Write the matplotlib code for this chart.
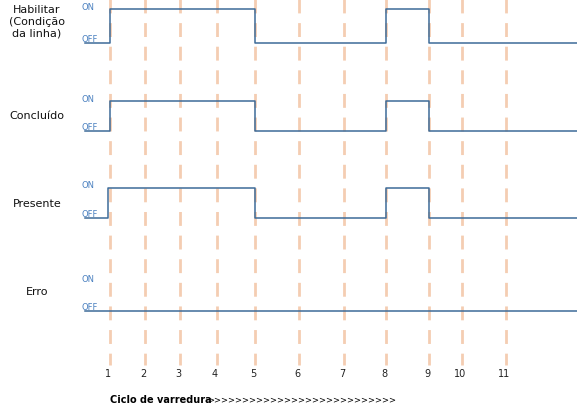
import matplotlib.pyplot as plt

# cycle marker positions (pixel x) and labels
cycle_labels = ['1', '2', '3', '4', '5', '6', '7', '8', '9', '10', '11']
cycle_x = [110, 145, 180, 217, 255, 299, 344, 386, 429, 462, 506]

signals = ['Habilitar\n(Condição\nda linha)', 'Concluído', 'Presente', 'Erro']
label_y = [22, 116, 204, 292]
on_y = [10, 102, 189, 283]
off_y = [44, 132, 219, 312]
# high intervals (pixel x) for each signal
high_spans = [
    [(110, 255), (386, 429)],
    [(110, 255), (386, 429)],
    [(108, 255), (386, 429)],
    [],
]

W, H = 577, 410
fig = plt.figure(figsize=(W / 100, H / 100), dpi=100)
ax = fig.add_axes([0, 0, 1, 1])
ax.set_xlim(0, W)
ax.set_ylim(H, 0)
ax.axis('off')

for x in cycle_x:
    ax.plot([x, x], [0, 366], color='#f4cdb2', lw=2, ls=(0, (5, 3.5)), zorder=1)
for x, t in zip(cycle_x, cycle_labels):
    ax.text(x - 2, 374, t, fontsize=7, ha='center', va='center', color='#222')

line_c = '#3d6b99'
for name, ly, yon, yoff, spans in zip(signals, label_y, on_y, off_y, high_spans):
    ax.text(37, ly, name, fontsize=8, ha='center', va='center', color='#111', linespacing=1.25)
    ax.text(82, yon - 3, 'ON', fontsize=6, color='#4a80c0', va='center')
    ax.text(82, yoff - 4, 'OFF', fontsize=6, color='#4a80c0', va='center')
    xs, ys = [85], [yoff]
    for a, b in spans:
        xs += [a, a, b, b]
        ys += [yoff, yon, yon, yoff]
    xs.append(577)
    ys.append(yoff)
    ax.plot(xs, ys, color=line_c, lw=1.1, zorder=2)

ax.text(110, 400, 'Ciclo de varredura', fontsize=7, fontweight='bold', va='center')
ax.text(207, 400, '>' * 27, fontsize=6, va='center')

fig.savefig('out.png', dpi=100)
